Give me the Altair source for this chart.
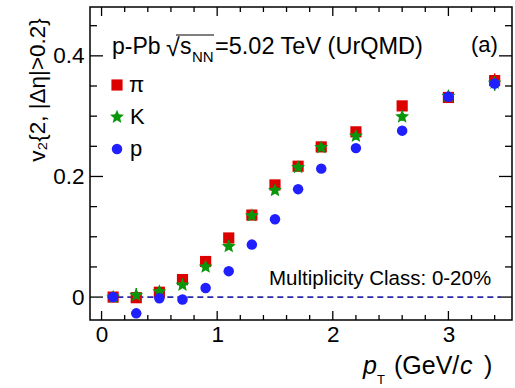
import math
import numpy as np
import pandas as pd
import altair as alt

# ---- data ----
pt = [0.1, 0.3, 0.5, 0.7, 0.9, 1.1, 1.3, 1.5, 1.7, 1.9, 2.2, 2.6, 3.0, 3.4]
v2_pi = [0.000, -0.001, 0.008, 0.029, 0.059, 0.098, 0.136, 0.186, 0.217, 0.249, 0.274, 0.317, 0.331, 0.359]
v2_K = [0.000, 0.003, 0.009, 0.020, 0.050, 0.084, 0.135, 0.177, 0.215, 0.248, 0.267, 0.299, 0.333, 0.355]
v2_p = [0.000, -0.027, -0.002, -0.004, 0.015, 0.043, 0.087, 0.129, 0.179, 0.213, 0.247, 0.276, 0.332, 0.354]
err_pi = [0.002, 0.003, 0.003, 0.003, 0.003, 0.003, 0.003, 0.003, 0.004, 0.004, 0.005, 0.005, 0.007, 0.012]
err_K = [0.002, 0.012, 0.004, 0.004, 0.004, 0.004, 0.004, 0.004, 0.005, 0.005, 0.006, 0.007, 0.009, 0.013]
err_p = [0.002, 0.003, 0.003, 0.003, 0.003, 0.003, 0.003, 0.003, 0.004, 0.004, 0.005, 0.005, 0.007, 0.010]

x_labels = [0, 1, 2, 3]
y_labels = [0, 0.2, 0.4]
x_minor_step = 0.2
y_minor_step = 0.05

W, H = 422, 313
FONT = "Liberation Sans"
RED, GREEN, BLUE = "#dd0000", "#0a960a", "#1f1fff"

xs = alt.Scale(domain=[-0.1, 3.55], nice=False, zero=False)
ys = alt.Scale(domain=[-0.038, 0.481], nice=False, zero=False)
x_axis = alt.Axis(values=x_labels, title=None, domain=False, ticks=False, grid=False,
                  labelFont=FONT, labelFontSize=22.5, labelColor="black", labelPadding=3, format="d")
y_axis = alt.Axis(values=y_labels, title=None, domain=False, ticks=False, grid=False,
                  labelFont=FONT, labelFontSize=22.5, labelColor="black", labelPadding=6,
                  labelExpr="datum.value == 0 ? '0' : format(datum.value, '.1f')")
X = alt.X("pt:Q", scale=xs, axis=x_axis)
Y = alt.Y("v2:Q", scale=ys, axis=y_axis)

# star path in [-1,1]
pts = []
for i in range(10):
    r = 1.0 if i % 2 == 0 else 0.45
    a = math.radians(-90 + 36 * i)
    pts.append((r * math.cos(a), r * math.sin(a)))
STAR = "M" + " L".join(f"{px:.3f},{py:.3f}" for px, py in pts) + " Z"

def series(vals, errs):
    return pd.DataFrame({"pt": pt, "v2": vals, "lo": np.array(vals) - np.array(errs),
                         "hi": np.array(vals) + np.array(errs)})

d_pi, d_K, d_p = series(v2_pi, err_pi), series(v2_K, err_K), series(v2_p, err_p)

layers = []

# ticks (inward, mirrored)
x_major = pd.DataFrame({"pt": x_labels})
x_minor = pd.DataFrame({"pt": [t for t in np.round(np.arange(0, 3.55, x_minor_step), 3) if t not in x_labels]})
y_major = pd.DataFrame({"v2": y_labels})
y_minor = pd.DataFrame({"v2": [t for t in np.round(np.arange(-0.0, 0.48, y_minor_step), 3) if t not in y_labels]})
for df, ln in [(x_major, 9), (x_minor, 5)]:
    layers.append(alt.Chart(df).mark_rule(color="black", strokeWidth=1.3).encode(
        x=X, y=alt.value(H), y2=alt.value(H - ln)))
    layers.append(alt.Chart(df).mark_rule(color="black", strokeWidth=1.3).encode(
        x=X, y=alt.value(0), y2=alt.value(ln)))
for df, ln in [(y_major, 13), (y_minor, 7)]:
    layers.append(alt.Chart(df).mark_rule(color="black", strokeWidth=1.3).encode(
        y=Y, x=alt.value(0), x2=alt.value(ln)))
    layers.append(alt.Chart(df).mark_rule(color="black", strokeWidth=1.3).encode(
        y=Y, x=alt.value(W), x2=alt.value(W - ln)))

# zero dashed line
zero_df = pd.DataFrame({"pt": [0.05, 3.45], "v2": [0, 0]})
layers.append(alt.Chart(zero_df).mark_line(color="#2a2aa8", strokeDash=[6, 4], strokeWidth=1.6).encode(x=X, y=Y))

# error bars
for d, c in [(d_pi, RED), (d_K, GREEN), (d_p, BLUE)]:
    layers.append(alt.Chart(d).mark_rule(color=c, strokeWidth=1.5).encode(
        x=X, y=alt.Y("lo:Q", scale=ys, axis=y_axis), y2="hi:Q"))

layers.append(alt.Chart(d_pi).mark_point(shape="square", filled=True, size=125, color=RED, opacity=1).encode(x=X, y=Y))
layers.append(alt.Chart(d_K).mark_point(shape=STAR, filled=True, size=215, color=GREEN, opacity=1).encode(x=X, y=Y))
layers.append(alt.Chart(d_p).mark_point(shape="circle", filled=True, size=110, color=BLUE, opacity=1).encode(x=X, y=Y))

one = pd.DataFrame({"a": [0]})

def txt(s, x, y, size=22, align="left", baseline="alphabetic", style="normal", angle=0):
    kw = dict(text=s, font=FONT, fontSize=size, align=align, baseline=baseline, color="black", fontStyle=style)
    if angle:
        kw["angle"] = angle
    return alt.Chart(one).mark_text(**kw).encode(x=alt.value(x), y=alt.value(y))

# legend (pixel coords relative to plot)
layers.append(alt.Chart(one).mark_point(shape="square", filled=True, size=125, color=RED, opacity=1).encode(x=alt.value(27), y=alt.value(78)))
layers.append(alt.Chart(one).mark_point(shape=STAR, filled=True, size=215, color=GREEN, opacity=1).encode(x=alt.value(27), y=alt.value(110)))
layers.append(alt.Chart(one).mark_point(shape="circle", filled=True, size=110, color=BLUE, opacity=1).encode(x=alt.value(27), y=alt.value(142)))
layers.append(txt("π", 39, 78, baseline="middle"))
layers.append(txt("K", 40, 110, baseline="middle"))
layers.append(txt("p", 40, 142, baseline="middle"))

# header text
layers.append(txt("p-Pb", 22, 47, size=23))
layers.append(txt("√", 76, 49, size=25))
layers.append(txt("s", 90, 47, size=23))
layers.append(txt("NN", 102, 55, size=15))
layers.append(txt("=5.02 TeV (UrQMD)", 125, 47, size=23.5))
layers.append(alt.Chart(one).mark_rule(color="black", strokeWidth=1.2).encode(
    x=alt.value(86), x2=alt.value(124), y=alt.value(28)))
layers.append(txt("(a)", 381, 45, size=22))
layers.append(txt("Multiplicity Class: 0-20%", 179, 278, size=20.5))

# axis titles
layers.append(txt("v₂{2, |Δη|>0.2}", -52, 83, size=22.5, align="center", baseline="middle", angle=270))
layers.append(txt("p", 273, 367, size=25, style="italic"))
layers.append(txt("T", 287, 377, size=13))
layers.append(txt("(GeV/", 304, 367, size=25))
layers.append(txt("c", 370, 367, size=25, style="italic"))
layers.append(txt(")", 394, 367, size=25))

chart = alt.layer(*layers).properties(
    width=W, height=H,
    autosize=alt.AutoSizeParams(type="none"),
    padding={"left": 90, "top": 7, "right": 3, "bottom": 68},
    background="white",
).configure_view(stroke="black", strokeWidth=1.5)

chart.save("out.html", embed_options={"renderer": "svg", "actions": False})
